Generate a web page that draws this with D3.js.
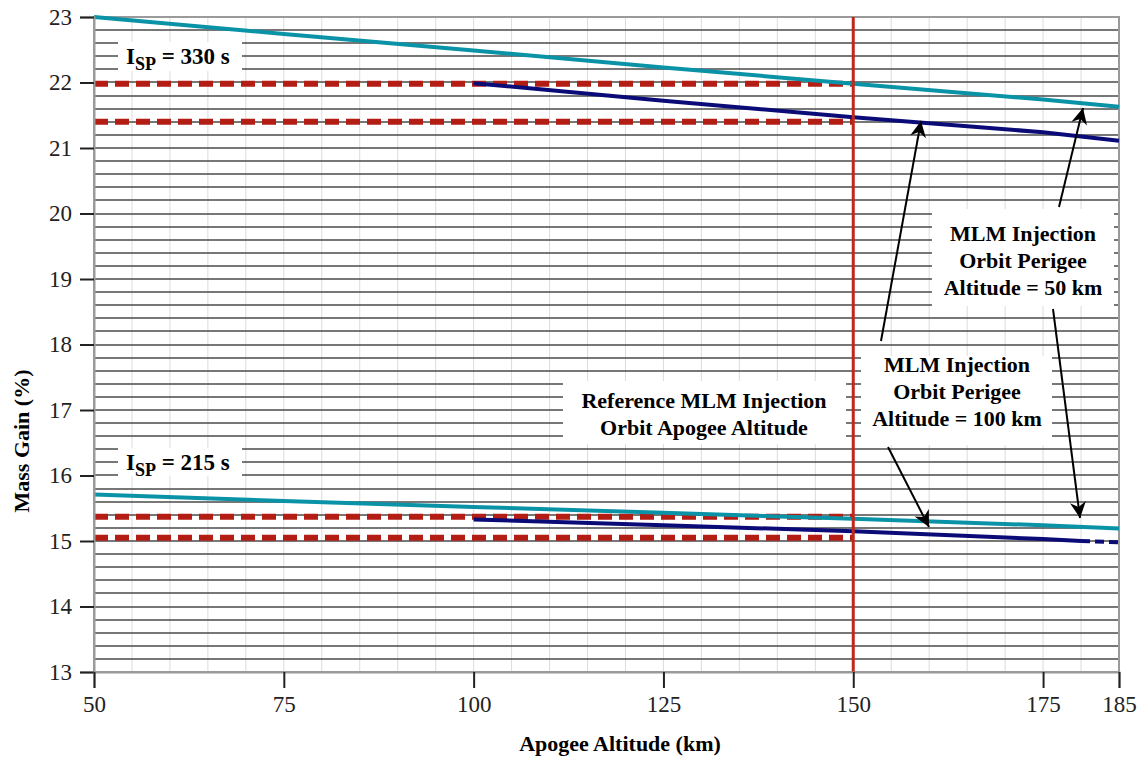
<!DOCTYPE html>
<html>
<head>
<meta charset="utf-8">
<script src="https://cdn.jsdelivr.net/npm/d3@7"></script>
<style>
  body { margin: 0; background: #fff; }
  text { font-family: "Liberation Serif", "Times New Roman", serif; }
</style>
</head>
<body>
<div id="chart"></div>
<script>
// apogee altitudes (km)
const altFull = [50, 75, 100, 125, 150, 175, 185];
const altHalf = [100, 125, 150, 175, 185];
const alt215b = [100, 125, 150, 175, 180];
const altTail = [180, 185];

// mass gain (%)
const gain330p50 = [23.0, 22.74, 22.49, 22.23, 21.98, 21.74, 21.63];
const gain330p100 = [21.99, 21.72, 21.47, 21.24, 21.11];
const gain215p50 = [15.71, 15.61, 15.52, 15.43, 15.34, 15.24, 15.19];
const gain215p100 = [15.33, 15.24, 15.15, 15.03, 15.0];
const gain215tail = [15.0, 14.98];

// reference levels at 150 km apogee
const refLevels = [21.98, 21.40, 15.37, 15.05];
const refApogee = 150;

const xTicks = [50, 75, 100, 125, 150, 175, 185];
const yTicks = [13, 14, 15, 16, 17, 18, 19, 20, 21, 22, 23];

const W = 1141, H = 759;
const margin = { top: 17, right: 22, bottom: 87, left: 94 };
const width = W - margin.left - margin.right;
const height = H - margin.top - margin.bottom;

const svg = d3.select("#chart").append("svg")
  .attr("width", W).attr("height", H);
const g = svg.append("g")
  .attr("transform", "translate(" + margin.left + "," + margin.top + ")");

const x = d3.scaleLinear().domain([50, 185]).range([0, width]);
const y = d3.scaleLinear().domain([13, 23]).range([height, 0]);

// vertical light grid every 5 km
g.append("g").selectAll("line")
  .data(d3.range(55, 185, 5))
  .enter().append("line")
  .attr("x1", d => x(d)).attr("x2", d => x(d))
  .attr("y1", 0).attr("y2", height)
  .attr("stroke", "#dcdcdc").attr("stroke-width", 1);

// horizontal grid every 0.2 %
g.append("g").selectAll("line")
  .data(d3.range(13.2, 23, 0.2))
  .enter().append("line")
  .attr("x1", 0).attr("x2", width)
  .attr("y1", d => Math.round(y(d))).attr("y2", d => Math.round(y(d)))
  .attr("stroke", "#4a4a4a").attr("stroke-width", 1.6);

// frame
g.append("rect")
  .attr("x", 0).attr("y", 0).attr("width", width).attr("height", height)
  .attr("fill", "none").attr("stroke", "#9a9a9a").attr("stroke-width", 2);

// label boxes (white, over grid)
function box(x0, y0, w, h) {
  g.append("rect")
    .attr("x", x0 - margin.left).attr("y", y0 - margin.top)
    .attr("width", w).attr("height", h)
    .attr("fill", "#fff");
}
box(118, 42, 124, 29);
box(118, 448, 124, 28);
box(563, 381, 283, 63);
box(861, 356, 191, 89);
box(932, 209, 182, 97);

// reference dashed levels
const refLine = d3.line().x(d => x(d[0])).y(d => y(d[1]));
refLevels.forEach(v => {
  g.append("path")
    .datum([[50, v], [refApogee, v]])
    .attr("d", refLine)
    .attr("fill", "none").attr("stroke", "#b31d14")
    .attr("stroke-width", 6).attr("stroke-dasharray", "14,7");
});

// series
const line = d3.line().x(d => x(d[0])).y(d => y(d[1]));
function series(xs, ys, color, dash) {
  g.append("path")
    .datum(xs.map((v, i) => [v, ys[i]]))
    .attr("d", line)
    .attr("fill", "none").attr("stroke", color)
    .attr("stroke-width", 4)
    .attr("stroke-dasharray", dash || null);
}
const teal = "#0a93a6", navy = "#0b0b78";
series(altHalf, gain330p100, navy);
series(altFull, gain330p50, teal);
series(alt215b, gain215p100, navy);
series(altTail, gain215tail, navy, "9,5");
series(altFull, gain215p50, teal);

// reference apogee vertical line
g.append("line")
  .attr("x1", x(refApogee)).attr("x2", x(refApogee))
  .attr("y1", 0).attr("y2", height)
  .attr("stroke", "#c0281c").attr("stroke-width", 3);

// axes
const yAxis = g.append("g")
  .call(d3.axisLeft(y).tickValues(yTicks).tickSize(14).tickPadding(8).tickFormat(d3.format("d")));
yAxis.select(".domain").attr("stroke", "#9a9a9a").attr("stroke-width", 2);
yAxis.selectAll(".tick line").attr("stroke", "#222").attr("stroke-width", 2);
yAxis.selectAll(".tick text").attr("font-size", 23).attr("fill", "#222")
  .attr("font-family", "Liberation Serif");

const xAxis = g.append("g")
  .attr("transform", "translate(0," + height + ")")
  .call(d3.axisBottom(x).tickValues(xTicks).tickSize(16).tickPadding(8).tickFormat(d3.format("d")));
xAxis.select(".domain").attr("stroke", "#9a9a9a").attr("stroke-width", 2);
xAxis.selectAll(".tick line").attr("stroke", "#222").attr("stroke-width", 2);
xAxis.selectAll(".tick text").attr("font-size", 23).attr("fill", "#222")
  .attr("font-family", "Liberation Serif");

// axis titles
svg.append("text")
  .attr("x", 620).attr("y", 751)
  .attr("text-anchor", "middle").attr("font-weight", "bold").attr("font-size", 22)
  .text("Apogee Altitude (km)");
svg.append("text")
  .attr("transform", "translate(29,441) rotate(-90)")
  .attr("text-anchor", "middle").attr("font-weight", "bold").attr("font-size", 22)
  .text("Mass Gain (%)");

// ISP labels
function isp(xp, yp, val) {
  const t = svg.append("text")
    .attr("x", xp).attr("y", yp)
    .attr("font-weight", "bold").attr("font-size", 23);
  t.append("tspan").text("I");
  t.append("tspan").attr("font-size", 18).attr("dy", 6).text("SP");
  t.append("tspan").attr("dy", -6).text(" = " + val + " s");
}
isp(126, 64, 330);
isp(126, 470, 215);

// annotations
function note(cx, y0, lines) {
  lines.forEach((s, i) => {
    svg.append("text")
      .attr("x", cx).attr("y", y0 + i * 27)
      .attr("text-anchor", "middle").attr("font-weight", "bold").attr("font-size", 22)
      .text(s);
  });
}
note(704, 408, ["Reference MLM Injection", "Orbit Apogee Altitude"]);
note(957, 372, ["MLM Injection", "Orbit Perigee", "Altitude = 100 km"]);
note(1023, 241, ["MLM Injection", "Orbit Perigee", "Altitude = 50 km"]);

// arrows
svg.append("defs").append("marker")
  .attr("id", "ah").attr("viewBox", "0 0 10 10")
  .attr("refX", 10).attr("refY", 5)
  .attr("markerWidth", 20).attr("markerHeight", 16)
  .attr("markerUnits", "userSpaceOnUse")
  .attr("orient", "auto")
  .append("path").attr("d", "M0,0 L10,5 L0,10 L3,5 Z").attr("fill", "#000");

const arrows = [
  [881, 341, 921, 121],
  [1059, 207, 1083, 108],
  [1053, 309, 1080, 518],
  [888, 447, 929, 527]
];
arrows.forEach(a => {
  svg.append("line")
    .attr("x1", a[0]).attr("y1", a[1]).attr("x2", a[2]).attr("y2", a[3])
    .attr("stroke", "#000").attr("stroke-width", 2)
    .attr("marker-end", "url(#ah)");
});
</script>
</body>
</html>
